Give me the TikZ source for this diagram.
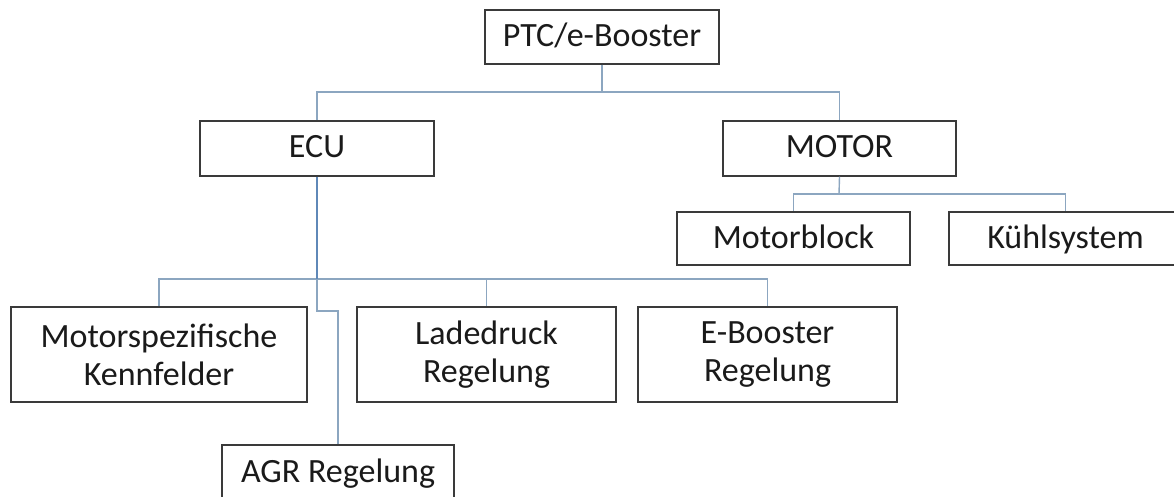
\documentclass[tikz,border=0pt]{standalone}
\usepackage{fontspec}
\setmainfont{Carlito}
\definecolor{boxline}{HTML}{3A3A3A}
\definecolor{wire}{HTML}{8CA6C0}
\definecolor{trunk}{HTML}{5F88B8}
\definecolor{ink}{HTML}{1A1A1A}
\tikzset{
  basebox/.style={draw=boxline, line width=1.3pt, fill=white, inner sep=0pt,
    text=ink, align=center, font=\fontsize{34}{38}\selectfont},
  box/.style={basebox, text height=24pt, text depth=5pt},
  twobox/.style={basebox},
  wirestyle/.style={draw=wire, line width=1.4pt},
  trunkstyle/.style={draw=trunk, line width=1.6pt}
}
\begin{document}
\begin{tikzpicture}[x=1pt,y=-1pt]
\useasboundingbox (0,0) rectangle (1174,497);
\clip (0,0) rectangle (1174,497);
\fill[white] (0,0) rectangle (1174,497);

% bus points of the connectors
\coordinate (topbus) at (602,92);
\coordinate (ecubus) at (317,279);
\coordinate (ecujog) at (317,311);
\coordinate (motbus) at (839,194);

% boxes
\node[box, minimum width=234pt, minimum height=54pt] (ptc) at (602,37) {PTC/e-Booster};
\node[box, minimum width=234pt, minimum height=55pt] (ecu) at (317,148.5) {ECU};
\node[box, minimum width=233pt, minimum height=55pt] (motor) at (839.5,148.5) {MOTOR};
\node[box, minimum width=233pt, minimum height=53pt] (mblock) at (793.5,238.5) {Motorblock};
\node[box, minimum width=233pt, minimum height=53pt] (kuehl) at (1065.5,238.5) {Kühlsystem};
\node[twobox, minimum width=296pt, minimum height=95pt] (mspez) at (159,354.5) {Motorspezifische\\Kennfelder};
\node[twobox, minimum width=259pt, minimum height=95pt] (lade) at (486.5,354.5) {Ladedruck\\Regelung};
\node[twobox, minimum width=259pt, minimum height=95pt] (eboost) at (767.5,354.5) {E-Booster\\Regelung};
\node[box, minimum width=232pt, minimum height=56pt] (agr) at (338,473) {AGR Regelung};

% top level
\draw[wirestyle] (ptc.south) -- (topbus);
\draw[wirestyle] (topbus) -| (ecu.north);
\draw[wirestyle] (topbus) -| (motor.north);

% ECU branches
\draw[wirestyle] (ecubus) -| (mspez.north);
\draw[wirestyle] (ecubus) -| (lade.north);
\draw[wirestyle] (ecubus) -| (eboost.north);
\draw[trunkstyle] (ecu.south) -- (ecubus);
\draw[wirestyle] (ecubus) -- (ecujog) -| (agr.north);

% MOTOR branches
\draw[wirestyle] (motor.south) -- (motbus);
\draw[wirestyle] (motbus) -| (mblock.north);
\draw[wirestyle] (motbus) -| (kuehl.north);
\end{tikzpicture}
\end{document}
